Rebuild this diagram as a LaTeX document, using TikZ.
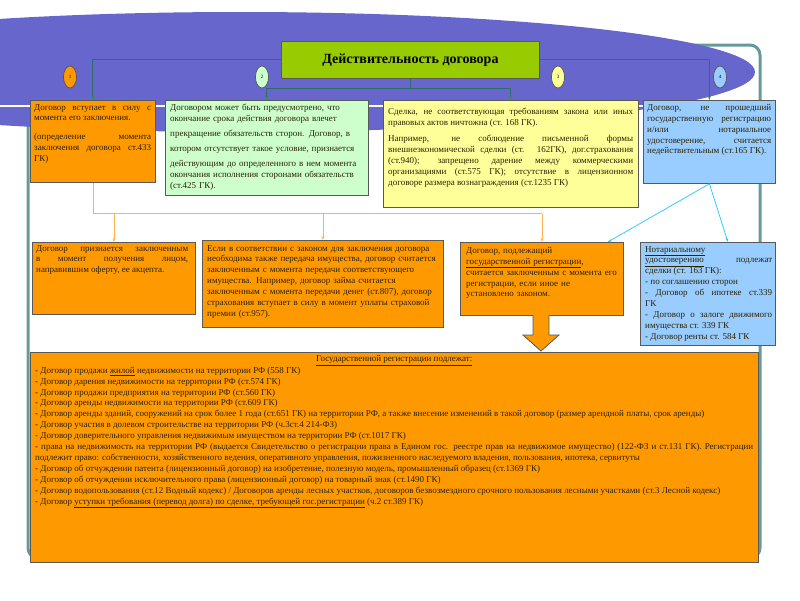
\documentclass[tikz,border=0pt]{standalone}
\usepackage{fontspec}
\setmainfont{Liberation Serif}
\usetikzlibrary{shapes.geometric,arrows.meta}

\definecolor{bandblue}{HTML}{6666CC}
\definecolor{frameteal}{HTML}{669999}
\definecolor{linkteal}{HTML}{2F6B6B}
\definecolor{titlegreen}{HTML}{99CC00}
\definecolor{boxorange}{HTML}{FF9900}
\definecolor{boxgreen}{HTML}{CCFFCC}
\definecolor{boxyellow}{HTML}{FFFF99}
\definecolor{boxblue}{HTML}{99CCFF}
\definecolor{tipgreen}{HTML}{339933}
\definecolor{linkorange}{HTML}{FFB050}
\definecolor{linkcyan}{HTML}{33CCFF}
\definecolor{inkdark}{HTML}{2B2200}

\tikzset{
  card/.style={draw=black!65, line width=0.8pt, anchor=north west, inner sep=0pt},
  cardtext/.style={anchor=north west, inner sep=0pt, text=inkdark,
    font=\fontsize{9}{10.9}\selectfont, align=justify},
  badge/.style={ellipse, draw=black!70, line width=0.6pt, minimum width=13pt,
    minimum height=22pt, inner sep=0pt, font=\fontsize{5}{6}\selectfont},
  link/.style={draw=linkteal, line width=0.9pt},
  down/.style={-{Stealth[length=4pt,width=3pt,color=tipgreen]}},
}

\begin{document}
\begin{tikzpicture}[x=1pt,y=-1pt]
    \useasboundingbox (0,0) rectangle (800,600);
    % frame and blue band
    \draw[frameteal, line width=3pt, rounded corners=10pt] (28,45) rectangle (760,558);
    \fill[bandblue] (240,72) ellipse [x radius=515, y radius=60];
    \draw[white, line width=1.5pt] (0,106) -- (645,106);

    \node[card, fill=titlegreen, minimum width=258pt, minimum height=37pt,
      font=\bfseries\fontsize{14}{16}\selectfont] (title) at (281,41) {Действительность договора};
    \foreach \n/\x/\c in {1/70/boxorange,2/262/boxgreen,3/558/boxyellow,4/720/boxblue}
        \node[badge, fill=\c] (badge\n) at (\x,77) {\n};

    % top row
    \node[card, fill=boxorange, minimum width=125pt, minimum height=82pt] (b1) at (30,100) {};
    \node[card, fill=boxgreen, minimum width=203pt, minimum height=95pt] (b2) at (165,100) {};
    \node[card, fill=boxyellow, minimum width=255pt, minimum height=107pt] (b3) at (383,100) {};
    \node[card, fill=boxblue, minimum width=132pt, minimum height=83pt] (b4) at (643,100) {};

    \draw[link, down] (title.west) -| (b1.north);
    \draw[link, down] (title.east) -| (b4.north);
    \draw[link] (title.south) -- ++(0,10) coordinate (split);
    \draw[link, down] (split) -| (b2.north);
    \draw[link, down] (split) -| (b3.north);

    \node[cardtext, text width=117pt] (t1) at (34,104)
      {Договор вступает в силу с момента его заключения.\\[8pt]
       (определение момента заключения договора ст.433 ГК)};
    \node[cardtext, text width=195pt, align=left] (t2) at (170,104)
      {Договором может быть предусмотрено, что\\
       окончание срока действия договора влечет\\[4pt]
       прекращение обязательств сторон. Договор, в\\[4pt]
       котором отсутствует такое условие, признается\\[4pt]
       действующим до определенного в нем момента\\
       окончания исполнения сторонами обязательств\\
       (ст.425 ГК).};
    \node[cardtext, text width=245pt] (t3) at (388,108)
      {Сделка, не соответствующая требованиям закона или иных правовых актов ничтожна (ст. 168 ГК).\\[5pt]
       Например, не соблюдение письменной формы внешнеэкономической сделки (ст. 162ГК),
       дог.страхования (ст.940); запрещено дарение между коммерческими организациями (ст.575 ГК);
       отсутствие в лицензионном договоре размера вознаграждения (ст.1235 ГК)};
    \node[cardtext, text width=124pt] (t4) at (647,104)
      {Договор, не прошедший государственную регистрацию и/или нотариальное удостоверение,
       считается недействительным (ст.165 ГК).};

    % middle row
    \node[card, fill=boxorange, minimum width=163pt, minimum height=72pt] (b5) at (32,242) {};
    \node[card, fill=boxorange, minimum width=241pt, minimum height=87pt] (b6) at (202,240) {};
    \node[card, fill=boxorange, minimum width=163pt, minimum height=73pt] (b7) at (460,242) {};
    \node[card, fill=boxblue, minimum width=135pt, minimum height=103pt] (b8) at (640,242) {};

    \draw[linkorange, line width=0.8pt] (b1.south) -- ++(0,31) coordinate (fork) -- (fork -| b7.north);
    \foreach \b in {b5,b6,b7}
        \draw[linkorange, line width=0.8pt, -{Stealth[length=4pt,width=3pt]}] (fork -| \b.north) -- (\b.north);
    \draw[linkcyan, line width=0.8pt, -{Stealth[length=4pt,width=3pt]}] (b4.south) -- ([xshift=-16pt]b7.north east);
    \draw[linkcyan, line width=0.8pt, -{Stealth[length=4pt,width=3pt]}] (b4.south) -- ([xshift=20pt]b8.north);

    \node[cardtext, text width=152pt] (t5) at (36,245)
      {Договор признается заключенным в момент получения лицом,\linebreak направившим оферту, ее акцепта.};
    \node[cardtext, text width=233pt, align=left] (t6) at (207,245)
      {Если в соответствии с законом для заключения договора\\
       необходима также передача имущества, договор считается\\
       заключенным с момента передачи соответствующего\\
       имущества. Например, договор займа считается\\
       заключенным с момента передачи денег (ст.807), договор\\
       страхования вступает в силу в момент уплаты страховой\\
       премии (ст.957).};
    \node[cardtext, text width=155pt, align=left] (t7) at (466,247)
      {Договор, подлежащий\\
       \underline{государственной регистрации},\\
       считается заключенным с момента его\\
       регистрации, если иное не\\
       установлено законом.};
    \node[cardtext, text width=127pt] (t8) at (645,246)
      {\underline{Нотариальному}\\
       \underline{удостоверению} подлежат\linebreak сделки (ст. 163 ГК):\\
       - по соглашению сторон\\
       - Договор об ипотеке ст.339\linebreak ГК\\
       - Договор о залоге движимого имущества ст. 339 ГК\\
       - Договор ренты ст. 584 ГК};

    % block arrow and bottom box
    \filldraw[fill=boxorange, draw=black!65, line width=0.8pt]
      (533,315) -- (533,335) -- (523,335) -- (541,351) -- (559,335) -- (549,335) -- (549,315);
    \node[card, fill=boxorange, minimum width=728pt, minimum height=210pt] (b9) at (30,352) {};
    \node[cardtext, text width=718pt] (t9) at (35,355)
      {\hspace*{\fill}\underline{Государственной регистрации подлежат:}\hspace*{\fill}\\[1pt]
       - Договор продажи \underline{жилой} недвижимости на территории РФ (558 ГК)\\
       - Договор дарения недвижимости на территории РФ (ст.574 ГК)\\
       - Договор продажи предприятия на территории РФ (ст.560 ГК)\\
       - Договор аренды недвижимости на территории РФ (ст.609 ГК)\\
       - Договор аренды зданий, сооружений на срок более 1 года (ст.651 ГК) на территории РФ, а также внесение изменений в такой договор (размер арендной платы, срок аренды)\\
       - Договор участия в долевом строительстве на территории РФ (ч.3ст.4 214-ФЗ)\\
       - Договор доверительного управления недвижимым имуществом на территории РФ (ст.1017 ГК)\\
       - права на недвижимость на территории РФ (выдается Свидетельство о регистрации права в Едином гос. реестре прав на недвижимое имущество) (122-ФЗ и ст.131 ГК). Регистрации подлежит право: собственности, хозяйственного ведения, оперативного управления, пожизненного наследуемого владения, пользования, ипотека, сервитуты\\
       - Договор об отчуждении патента (лицензионный договор) на изобретение, полезную модель, промышленный образец (ст.1369 ГК)\\
       - Договор об отчуждении исключительного права (лицензионный договор) на товарный знак (ст.1490 ГК)\\
       - Договор водопользования (ст.12 Водный кодекс) / Договоров аренды лесных участков, договоров безвозмездного срочного пользования лесными участками (ст.3 Лесной кодекс)\\
       - Договор \underline{уступки требования (перевод долга) по сделке, требующей гос.регистрации} (ч.2 ст.389 ГК)};
\end{tikzpicture}
\end{document}
